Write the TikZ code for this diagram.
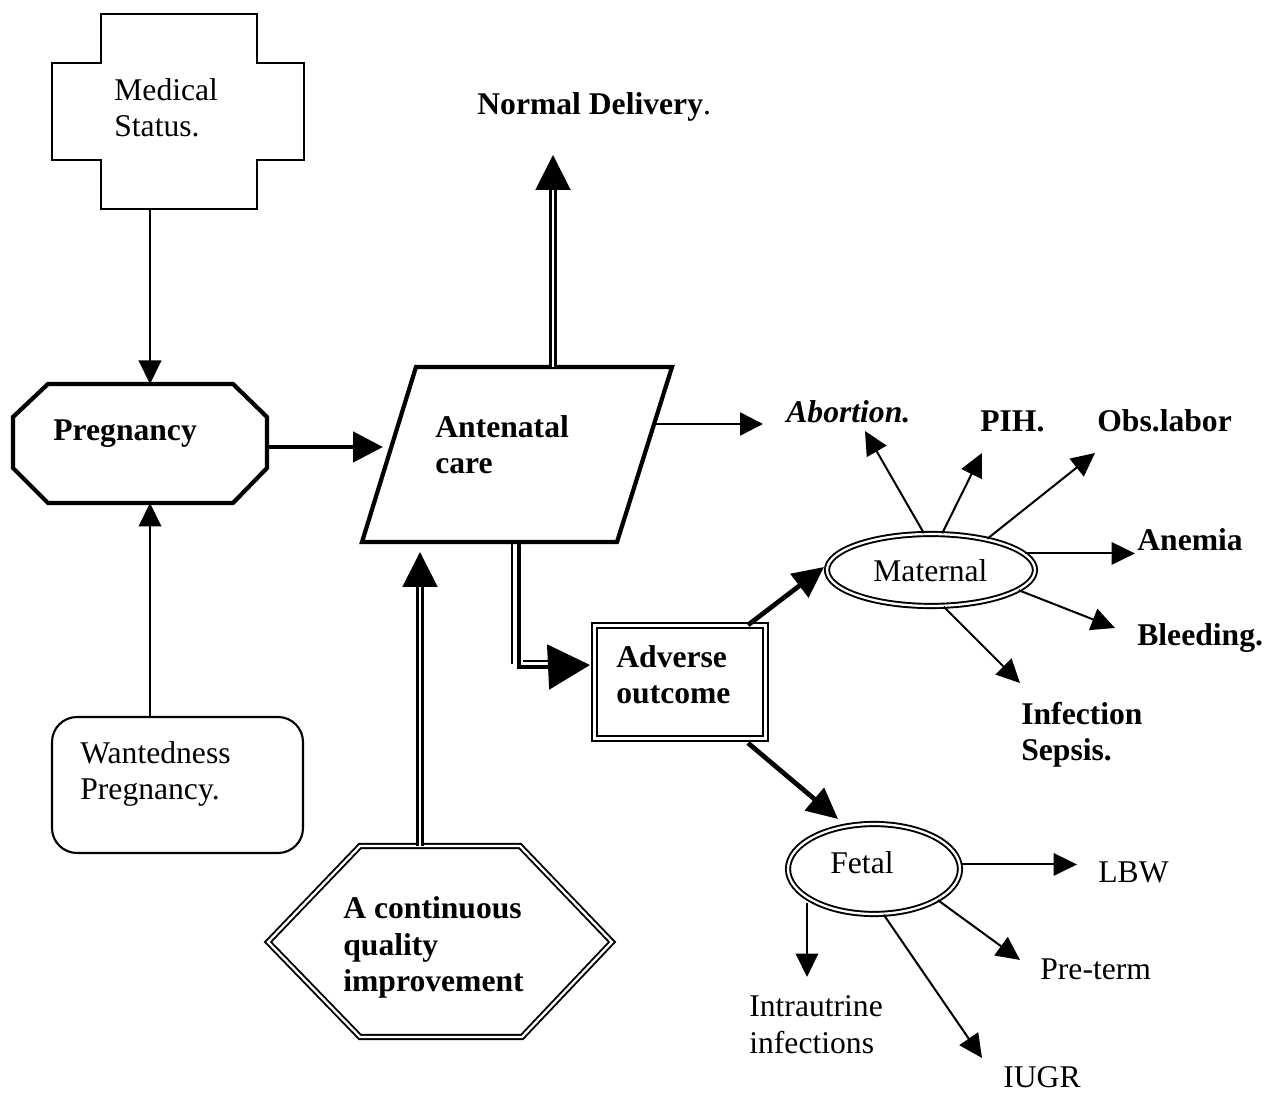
\documentclass[tikz,border=0pt]{standalone}
\usepackage{fontspec}
\setmainfont{Liberation Serif}
\usetikzlibrary{arrows.meta,shapes.geometric}
\begin{document}
\begin{tikzpicture}[x=0.02cm,y=-0.02cm,
  txt/.style={inner sep=0pt, font=\fontsize{18}{21}\selectfont, align=left},
  btxt/.style={txt, font=\fontsize{18}{21}\selectfont\bfseries},
  conn/.style={line width=1.15pt},
  tipS/.style={-{Triangle[length=0.47cm,width=0.45cm]}},
  heavy/.style={line width=2.7pt},
  dblline/.style={line width=1.2pt, double, double distance=1.7pt},
  dblborder/.style={line width=1.1pt, double, double distance=1.3pt},
  boldborder/.style={line width=2.4pt, line join=miter},
]
\useasboundingbox (0,0) rectangle (1276,1094);
\clip (0,0) rectangle (1276,1094);

% ---------- shapes ----------
% Medical status (cross)
\draw[line width=1.2pt] (101,14) -- (257,14) -- (257,63) -- (304,63) -- (304,160)
  -- (257,160) -- (257,209) -- (101,209) -- (101,160) -- (52,160) -- (52,63)
  -- (101,63) -- cycle;
% Pregnancy (octagon)
\draw[boldborder] (48,384) -- (233,384) -- (267,417) -- (267,468) -- (233,503)
  -- (48,503) -- (13,468) -- (13,417) -- cycle;
% Wantedness (rounded box)
\draw[line width=1.2pt, rounded corners=0.5cm] (52,717) rectangle (303,853);
% Antenatal care (parallelogram)
\draw[boldborder] (416,367) -- (672,367) -- (617,542) -- (362,542) -- cycle;
% Adverse outcome (double box)
\node[draw, line width=1.3pt, double, double distance=1.7pt, minimum width=3.42cm,
  minimum height=2.26cm, inner sep=0pt] (adv) at (680,682) {};
% Quality improvement (double hexagon)
\draw[dblborder] (360,846) -- (520,846) -- (612,942) -- (522,1037) -- (360,1037)
  -- (268,942) -- cycle;
% Maternal and fetal (double ellipses)
\node[draw, ellipse, dblborder, minimum width=4.16cm, minimum height=1.44cm,
  inner sep=0pt] (mat) at (931,570) {};
\node[draw, ellipse, dblborder, minimum width=3.44cm, minimum height=1.8cm,
  inner sep=0pt] (fet) at (874,869) {};

% ---------- texts ----------
\node[txt, anchor=base west] (ms) at (114,137) {Medical\\Status.};
\node[btxt, anchor=base west] (pgt) at (53,441) {Pregnancy};
\node[txt, anchor=base west] (wpt) at (80,800) {Wantedness\\Pregnancy.};
\node[btxt, anchor=base west] (act) at (435,474) {Antenatal\\care};
\node[txt, anchor=base west] (nd) at (477,115) {\textbf{Normal Delivery}.};
\node[btxt, anchor=base west] (adt) at (616,704) {Adverse\\outcome};
\node[btxt, anchor=base west] (cq) at (343,992) {A continuous\\quality\\improvement};
\node[txt, font=\fontsize{18}{21}\selectfont\bfseries\itshape, anchor=base west] (ab) at (786,423) {Abortion.};
\node[btxt, anchor=base west] (pih) at (980,432) {PIH.};
\node[btxt, anchor=base west] (obs) at (1097,432) {Obs.labor};
\node[btxt, anchor=base west] (an) at (1137,551) {Anemia};
\node[btxt, anchor=base west] (bl) at (1137,646) {Bleeding.};
\node[btxt, anchor=base west] (inf) at (1021,761) {Infection\\Sepsis.};
\node[txt, anchor=base west] (matt) at (873,582) {Maternal};
\node[txt, anchor=base west] (fett) at (830,874) {Fetal};
\node[txt, anchor=base west] (lbw) at (1098,883) {LBW};
\node[txt, anchor=base west] (pre) at (1040,980) {Pre-term};
\node[txt, anchor=base west] (iugr) at (1003,1088) {IUGR};
\node[txt, anchor=base west] (iu) at (749,1053) {Intrautrine\\infections};

% ---------- connection points ----------
\coordinate (ms-s) at (150,209);
\coordinate (pg-n) at (150,384);
\coordinate (pg-s) at (150,503);
\coordinate (pg-e) at (267,447);
\coordinate (wp-n) at (150,717);
\coordinate (ac-w) at (383,447);
\coordinate (ac-n) at (553,367);
\coordinate (nd-base) at (553,190);
\coordinate (nd-tip) at (553,155);
\coordinate (ac-e) at (654,424);
\coordinate (ab-tip) at (763,424);
\coordinate (ac-s) at (519,543);
\coordinate (ac-s2) at (512,543);
\coordinate (adv-base) at (548,667);
\coordinate (adv-tip) at (590,665);
\coordinate (cq-n) at (420,846);
\coordinate (cq-base) at (420,587);
\coordinate (cq-tip) at (420,552);
\coordinate (adv-ne) at (748,625);
\coordinate (adv-se) at (748,743);
\coordinate (mat-tip) at (824,567);
\coordinate (fet-tip) at (838,819);
\coordinate (ab2-tip) at (865,431);
\coordinate (pih-tip) at (982,453);
\coordinate (obs-tip) at (1095,453);
\coordinate (an-tip) at (1135,551);
\coordinate (bl-tip) at (1115,628);
\coordinate (inf-tip) at (1020,683);
\coordinate (lbw-tip) at (1077,864);
\coordinate (pre-tip) at (1020,960);
\coordinate (iugr-tip) at (982,1058);
\coordinate (iu-tip) at (807,977);

% ---------- connectors ----------
\draw[conn, tipS] (ms-s) -- (pg-n);
\draw[conn, tipS] (wp-n) -- (pg-s);
\draw[heavy, -{Triangle[length=0.6cm,width=0.6cm]}] (pg-e) -- (ac-w);
% to normal delivery
\draw[dblline] (ac-n) -- (nd-base);
\draw[conn, -{Triangle[length=0.7cm,width=0.7cm]}] (nd-base) -- (nd-tip);
% to abortion
\draw[line width=1.4pt, -{Triangle[length=0.46cm,width=0.46cm]}] (ac-e) -- (ab-tip);
% to adverse outcome (heavy line with a light companion line)
\draw[line width=2.8pt] (ac-s) |- (adv-base);
\draw[conn] (ac-s2) -- (512,664);
\draw[conn] (523,661) -- (adv-base |- 0,661);
\draw[conn, -{Triangle[length=0.84cm,width=0.9cm]}] (adv-base) -- (adv-tip);
% quality improvement to antenatal care
\draw[dblline] (cq-n) -- (cq-base);
\draw[conn, -{Triangle[length=0.7cm,width=0.7cm]}] (cq-base) -- (cq-tip);
% adverse outcome branches
\draw[heavy, -{Triangle[length=0.62cm,width=0.58cm]}] (adv-ne) -- (mat-tip);
\draw[heavy, -{Triangle[length=0.62cm,width=0.58cm]}] (adv-se) -- (fet-tip);
% maternal outcomes
\draw[conn, tipS] (mat.101) -- (ab2-tip);
\draw[conn, tipS] (mat.73) -- (pih-tip);
\draw[conn, tipS] (mat.29) -- (obs-tip);
\draw[conn, tipS] (mat.10) -- (mat.10 -| an-tip);
\draw[conn, tipS] (mat.-13) -- (bl-tip);
\draw[conn, tipS] (mat.-71) -- (inf-tip);
% fetal outcomes
\draw[conn, tipS] (fet.3) -- (fet.3 -| lbw-tip);
\draw[conn, tipS] (fet.-26) -- (pre-tip);
\draw[conn, tipS] (fet.-78) -- (iugr-tip);
\draw[conn, tipS] (iu-tip |- fet.-150) -- (iu-tip);
\end{tikzpicture}
\end{document}
